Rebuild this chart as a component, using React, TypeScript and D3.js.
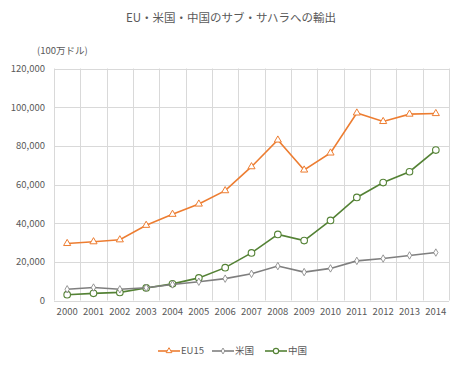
import * as d3 from 'd3';
import { useEffect, useRef } from 'react';

const years = ['2000', '2001', '2002', '2003', '2004', '2005', '2006', '2007', '2008', '2009', '2010', '2011', '2012', '2013', '2014'];
const eu15 = [29500, 30400, 31400, 38900, 44600, 49900, 56800, 69200, 83000, 67500, 76300, 97000, 92600, 96400, 96700];
const usa = [5800, 6700, 5800, 6600, 8300, 9700, 11300, 13800, 17800, 14700, 16600, 20500, 21700, 23300, 24800];
const china = [3000, 3700, 4200, 6500, 8600, 11700, 17000, 24600, 34200, 31000, 41400, 53300, 61000, 66600, 77800];
const yTicks = [0, 20000, 40000, 60000, 80000, 100000, 120000];

const series = [
    { name: 'EU15', values: eu15, color: '#ED7D31', marker: 'triangle' },
    { name: '米国', values: usa, color: '#7F7F7F', marker: 'diamond' },
    { name: '中国', values: china, color: '#548235', marker: 'circle' },
];

export default function App() {
    const chartRef = useRef(null);

    useEffect(() => {
        const width = 462;
        const height = 366;
        const margin = { top: 68.5, right: 13, bottom: 65.5, left: 54 };
        const font = '"Noto Sans CJK JP", "Noto Sans", sans-serif';

        const root = d3.select(chartRef.current);
        root.selectAll('*').remove();

        const svg = root
            .append('svg')
            .attr('width', width)
            .attr('height', height)
            .style('display', 'block')
            .style('font-family', font);

        // outer frame
        svg.append('rect')
            .attr('x', 0.5).attr('y', 0.5)
            .attr('width', width - 1).attr('height', height - 1)
            .attr('fill', '#fff').attr('stroke', '#D9D9D9');

        const xScale = d3.scaleBand()
            .domain(years)
            .range([margin.left, width - margin.right]);

        const yScale = d3.scaleLinear()
            .domain([0, 120000])
            .range([height - margin.bottom, margin.top]);

        // grid
        const grid = svg.append('g').attr('stroke', '#D9D9D9').attr('stroke-width', 1);
        yTicks.forEach((t) => {
            grid.append('line')
                .attr('x1', margin.left).attr('x2', width - margin.right)
                .attr('y1', Math.round(yScale(t)) + 0.5).attr('y2', Math.round(yScale(t)) + 0.5);
        });
        const bounds = years.map((y) => xScale(y)).concat([width - margin.right]);
        bounds.forEach((x) => {
            grid.append('line')
                .attr('x1', Math.round(x) + 0.5).attr('x2', Math.round(x) + 0.5)
                .attr('y1', yScale(120000)).attr('y2', yScale(0));
        });

        // y axis labels
        const yAxis = svg.append('g')
            .attr('transform', `translate(${margin.left - 6},0)`)
            .call(d3.axisLeft(yScale).tickValues(yTicks).tickSize(0).tickFormat(d3.format(',')));
        yAxis.select('.domain').remove();
        yAxis.selectAll('text')
            .style('font-family', font)
            .style('font-size', '9.5px')
            .attr('fill', '#595959');

        // x axis labels
        const xAxis = svg.append('g')
            .attr('transform', `translate(0,${height - margin.bottom + 5})`)
            .call(d3.axisBottom(xScale).tickSize(0));
        xAxis.select('.domain').remove();
        xAxis.selectAll('text')
            .style('font-family', font)
            .style('font-size', '9.5px')
            .attr('fill', '#595959');

        const cx = (i: number) => xScale(years[i]) + xScale.bandwidth() / 2;

        const drawMarker = (g, type, x, y, color, k = 1) => {
            if (type === 'triangle') {
                g.append('path')
                    .attr('d', d3.symbol(d3.symbolTriangle, 22 * k * k)())
                    .attr('transform', `translate(${x},${y})`)
                    .attr('fill', '#fff').attr('stroke', color).attr('stroke-width', 1);
            } else if (type === 'diamond') {
                g.append('path')
                    .attr('d', d3.symbol(d3.symbolDiamond, 16 * k * k)())
                    .attr('transform', `translate(${x},${y})`)
                    .attr('fill', '#fff').attr('stroke', color).attr('stroke-width', 0.8);
            } else {
                g.append('circle')
                    .attr('cx', x).attr('cy', y).attr('r', 3.3 * k)
                    .attr('fill', '#fff').attr('stroke', color).attr('stroke-width', 1.1);
            }
        };

        const line = d3.line<number>()
            .x((d, i) => cx(i))
            .y((d) => yScale(d));

        // draw lines in reverse so EU15 is on top
        series.slice().reverse().forEach((s) => {
            const g = svg.append('g');
            g.append('path')
                .datum(s.values)
                .attr('d', line)
                .attr('fill', 'none')
                .attr('stroke', s.color)
                .attr('stroke-width', 1.6);
            s.values.forEach((v, i) => drawMarker(g, s.marker, cx(i), yScale(v), s.color));
        });

        // title
        svg.append('text')
            .attr('x', width / 2)
            .attr('y', 22)
            .attr('text-anchor', 'middle')
            .attr('fill', '#595959')
            .style('font-size', '11.5px')
            .text('EU・米国・中国のサブ・サハラへの輸出');

        // unit label
        svg.append('text')
            .attr('x', 37)
            .attr('y', 54)
            .attr('fill', '#595959')
            .style('font-size', '9.5px')
            .text('(100万ドル)');

        // legend
        const legendX = [158, 212, 265];
        const ly = 351;
        series.forEach((s, i) => {
            const g = svg.append('g');
            g.append('line')
                .attr('x1', legendX[i]).attr('x2', legendX[i] + 22)
                .attr('y1', ly).attr('y2', ly)
                .attr('stroke', s.color).attr('stroke-width', 1.6);
            drawMarker(g, s.marker, legendX[i] + 11, ly, s.color, 0.8);
            g.append('text')
                .attr('x', legendX[i] + 23)
                .attr('y', ly)
                .attr('dy', '0.35em')
                .attr('fill', '#595959')
                .style('font-size', '9.5px')
                .text(s.name);
        });

        return () => {
            root.selectAll('*').remove();
        };
    }, []);

    return <div ref={chartRef} style={{ margin: -8 }}></div>;
}
